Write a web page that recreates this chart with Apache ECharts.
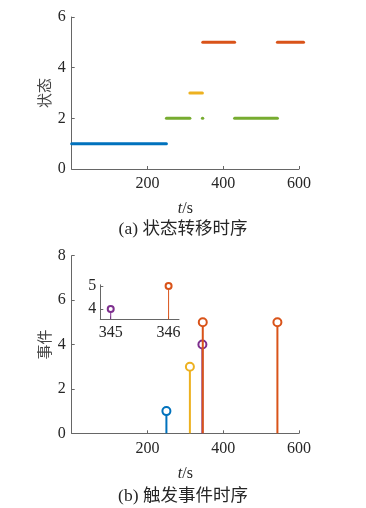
<!DOCTYPE html>
<html>
<head>
<meta charset="utf-8">
<script src="https://cdn.jsdelivr.net/npm/echarts@6/dist/echarts.min.js"></script>
<style>html,body{margin:0;padding:0;background:#fff}#c{width:366px;height:508px}</style>
</head>
<body>
<div id="c"></div>
<script>
// ---- data ----
const segStart = [0, 250, 312, 345, 346, 430, 543];
const segEnd   = [250, 312, 345, 346, 430, 543, 612];
const segState = [1, 2, 3, 2, 5, 2, 5];
const eventTimes  = [250, 312, 345, 346, 543];
const eventValues = [1, 3, 4, 5, 5];
const insetTimes  = [345, 346];
const insetValues = [4, 5];
const topYTicks = [0, 2, 4, 6];
const botYTicks = [0, 2, 4, 6, 8];
const xTicks = [200, 400, 600];
const insetXTicks = [345, 346];
const insetYTicks = [4, 5];
const stateColors = {1:'#0072BD', 2:'#77AC30', 3:'#EDB120', 4:'#7E2F8E', 5:'#D95319'};

const FONT = '"Liberation Serif", "Noto Sans CJK SC", serif';
const txt = '#262626';
const axisCol = '#666';

function axisBase(extra){
  return Object.assign({
    type:'value',
    axisLine:{show:true, lineStyle:{color:axisCol, width:1}},
    axisTick:{show:true, inside:true, length:3, lineStyle:{color:axisCol}},
    splitLine:{show:false},
    axisLabel:{color:txt, fontFamily:FONT, fontSize:16, margin:6},
    nameMoveOverlap:false,
    nameTextStyle:{color:'#444', fontFamily:FONT, fontSize:15}
  }, extra);
}

const series = [];
series.push({
  type:'custom', xAxisIndex:0, yAxisIndex:0, silent:true, clip:false,
  data: segStart.map((s,i)=>[s, segEnd[i], segState[i]]),
  renderItem: function(params, api){
    const a = api.coord([api.value(0), api.value(2)]);
    const b = api.coord([api.value(1), api.value(2)]);
    return {type:'line', shape:{x1:a[0], y1:a[1], x2:b[0], y2:b[1]},
      style:{stroke:stateColors[api.value(2)], lineWidth:3, lineCap:'round'}};
  }
});
eventTimes.forEach((t,i)=>{
  const v = eventValues[i];
  series.push({
    type:'line', xAxisIndex:1, yAxisIndex:1, silent:true, z: 2 + i,
    symbol:'emptyCircle', symbolSize:8,
    lineStyle:{color:stateColors[v], width:2},
    itemStyle:{color:stateColors[v], borderWidth:2},
    data:[{value:[t,0], symbol:'none'},[t,v]]
  });
});
const insetYMin = 3.55;
insetTimes.forEach((t,i)=>{
  const v = insetValues[i];
  series.push({
    type:'line', xAxisIndex:2, yAxisIndex:2, silent:true,
    symbol:'emptyCircle', symbolSize:6,
    lineStyle:{color:stateColors[v], width:1},
    itemStyle:{color:stateColors[v], borderWidth:1.3},
    data:[{value:[t,insetYMin], symbol:'none'},[t,v]]
  });
});

const xName = {
  name:'{i|t}/s', nameLocation:'middle', nameGap:32,
  nameTextStyle:{color:txt, fontFamily:FONT, fontSize:16, rich:{i:{fontStyle:'italic', fontFamily:FONT, fontSize:16, color:txt}}}
};

const chart = echarts.init(document.getElementById('c'), null, {renderer:'canvas'});
chart.setOption({
  animation:false,
  backgroundColor:'#fff',
  grid:[
    {left:71.7, top:17, width:227.3, height:152},
    {left:71.7, top:255.7, width:227.3, height:177.6},
    {left:100.3, top:284.8, width:78.7, height:34.5}
  ],
  xAxis:[
    axisBase(Object.assign({gridIndex:0, min:0, max:600, interval:200,
      axisLabel:{color:txt, fontFamily:FONT, fontSize:16, margin:7, showMinLabel:false}}, xName)),
    axisBase(Object.assign({gridIndex:1, min:0, max:600, interval:200,
      axisLabel:{color:txt, fontFamily:FONT, fontSize:16, margin:7, showMinLabel:false}}, xName)),
    axisBase({gridIndex:2, min:344.82, max:346.18,
      axisTick:{show:true, inside:true, length:3, lineStyle:{color:axisCol}, customValues:insetXTicks},
      axisLabel:{color:txt, fontFamily:FONT, fontSize:16, margin:5, customValues:insetXTicks}})
  ],
  yAxis:[
    axisBase({gridIndex:0, min:0, max:6, interval:2,
      name:'状态', nameLocation:'middle', nameGap:18}),
    axisBase({gridIndex:1, min:0, max:8, interval:2,
      name:'事件', nameLocation:'middle', nameGap:18}),
    axisBase({gridIndex:2, min:insetYMin, max:5.05,
      axisTick:{show:true, inside:true, length:3, lineStyle:{color:axisCol}, customValues:insetYTicks},
      axisLabel:{color:txt, fontFamily:FONT, fontSize:16, margin:4, customValues:insetYTicks}})
  ],
  graphic:[
    {type:'text', left:'center', top:221, style:{text:'(a) 状态转移时序', font:'17.5px ' + FONT, fill:txt, textAlign:'center'}},
    {type:'text', left:'center', top:488, style:{text:'(b) 触发事件时序', font:'17.5px ' + FONT, fill:txt, textAlign:'center'}}
  ],
  series:series
});
</script>
</body>
</html>
